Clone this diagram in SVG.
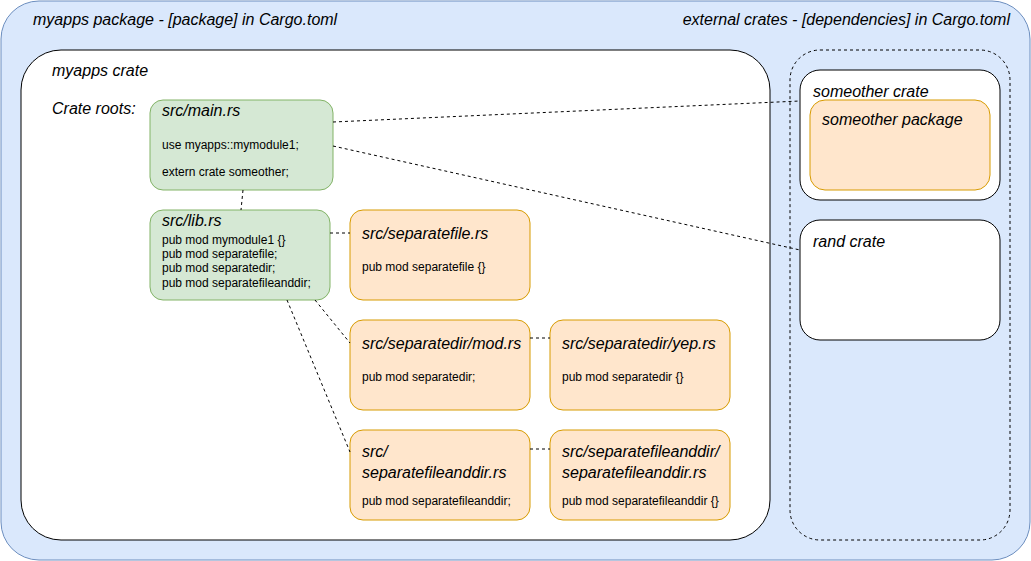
<svg xmlns="http://www.w3.org/2000/svg" width="1031" height="561" viewBox="0 0 1031 561">
<style>
.t{font-family:"Liberation Sans",Arial,sans-serif;font-style:italic;font-size:16px;fill:#000}
.b{font-family:"Liberation Sans",Arial,sans-serif;font-size:12px;fill:#000}
.g{fill:#d5e8d4;stroke:#82b366;stroke-width:1}
.o{fill:#ffe6cc;stroke:#d79b00;stroke-width:1}
.w{fill:#fff;stroke:#000;stroke-width:1}
.c{fill:none;stroke:#000;stroke-width:1;stroke-dasharray:3 3}
</style>
<g id="package">
<rect x="1" y="1" width="1029" height="559" rx="38" fill="#dae8fc" stroke="#6c8ebf"/>
<text class="t" x="33" y="25">myapps package - [package] in Cargo.toml</text>
<text class="t" x="1010" y="25" text-anchor="end">external crates - [dependencies] in Cargo.toml</text>
</g>
<g id="myapps-crate">
<rect class="w" x="21" y="50" width="749" height="490" rx="40"/>
<text class="t" x="52" y="76">myapps crate</text>
<text class="t" x="52" y="114">Crate roots:</text>
</g>
<g id="external">
<rect x="790" y="50" width="220" height="490" rx="30" fill="none" stroke="#000" stroke-dasharray="3 3"/>
</g>
<g id="someother-crate">
<rect class="w" x="800" y="70" width="200" height="130" rx="20"/>
<text class="t" x="813" y="97">someother crate</text>
</g>
<g id="someother-package">
<rect class="o" x="810" y="100" width="180" height="90" rx="15"/>
<text class="t" x="822" y="125">someother package</text>
</g>
<g id="rand-crate">
<rect class="w" x="800" y="220" width="200" height="120" rx="20"/>
<text class="t" x="813" y="247">rand crate</text>
</g>
<g id="main-rs">
<rect class="g" x="150" y="100" width="183" height="90" rx="13"/>
<text class="t" x="162" y="116">src/main.rs</text>
<text class="b" x="162" y="149">use myapps::mymodule1;</text>
<text class="b" x="162" y="176">extern crate someother;</text>
</g>
<g id="lib-rs">
<rect class="g" x="150" y="210" width="180" height="90" rx="13"/>
<text class="t" x="162" y="226">src/lib.rs</text>
<text class="b" x="162" y="244">pub mod mymodule1 {}</text>
<text class="b" x="162" y="258">pub mod separatefile;</text>
<text class="b" x="162" y="272">pub mod separatedir;</text>
<text class="b" x="162" y="287">pub mod separatefileanddir;</text>
</g>
<g id="separatefile-rs">
<rect class="o" x="350" y="210" width="180" height="90" rx="13"/>
<text class="t" x="362" y="239">src/separatefile.rs</text>
<text class="b" x="362" y="271">pub mod separatefile {}</text>
</g>
<g id="separatedir-mod-rs">
<rect class="o" x="350" y="320" width="180" height="90" rx="13"/>
<text class="t" x="362" y="349">src/separatedir/mod.rs</text>
<text class="b" x="362" y="381">pub mod separatedir;</text>
</g>
<g id="separatedir-yep-rs">
<rect class="o" x="550" y="320" width="180" height="90" rx="13"/>
<text class="t" x="562" y="349">src/separatedir/yep.rs</text>
<text class="b" x="562" y="381">pub mod separatedir {}</text>
</g>
<g id="separatefileanddir-rs">
<rect class="o" x="350" y="430" width="180" height="90" rx="13"/>
<text class="t" x="362" y="457">src/</text>
<text class="t" x="362" y="478">separatefileanddir.rs</text>
<text class="b" x="362" y="505">pub mod separatefileanddir;</text>
</g>
<g id="separatefileanddir-inner-rs">
<rect class="o" x="550" y="430" width="180" height="90" rx="13"/>
<text class="t" x="562" y="457">src/separatefileanddir/</text>
<text class="t" x="562" y="478">separatefileanddir.rs</text>
<text class="b" x="562" y="505">pub mod separatefileanddir {}</text>
</g>
<g id="connectors">
<path class="c" d="M333 122 L800 101"/>
<path class="c" d="M333 146 L800 250"/>
<path class="c" d="M243 190 L241 210"/>
<path class="c" d="M330 233 L350 233"/>
<path class="c" d="M315 300 L350 343"/>
<path class="c" d="M287 300 L350 452"/>
<path class="c" d="M530 338 L550 338"/>
<path class="c" d="M530 449 L550 449"/>
</g>
</svg>
